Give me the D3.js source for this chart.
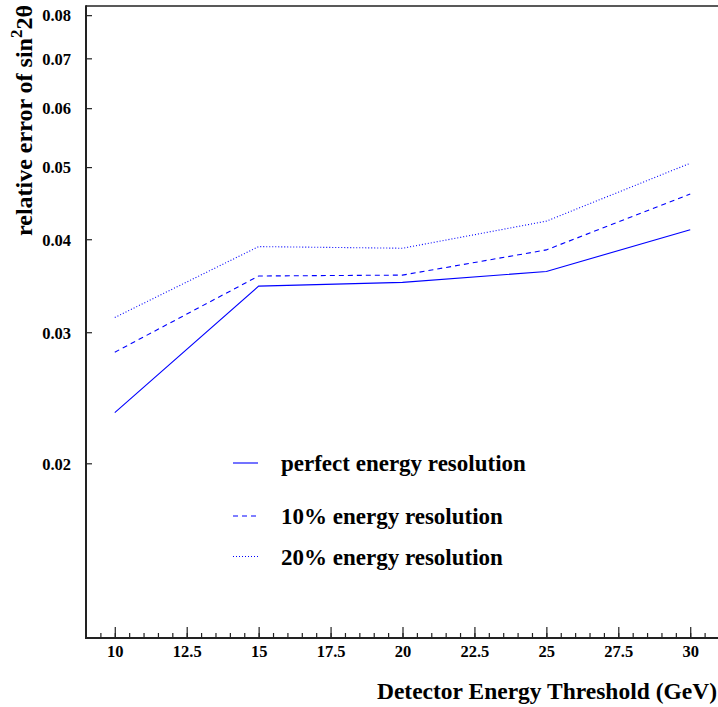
<!DOCTYPE html>
<html>
<head>
<meta charset="utf-8">
<script src="https://cdn.jsdelivr.net/npm/d3@7"></script>
<style>
  body { margin: 0; background: #fff; }
  svg text { font-family: "Liberation Serif", "Times New Roman", serif; font-weight: bold; fill: #000; }
</style>
</head>
<body>
<script>
const thresholds = [10, 15, 20, 25, 30];
const perfectRes = [0.0234, 0.0346, 0.0350, 0.0362, 0.0412];
const res10 = [0.0282, 0.0357, 0.0358, 0.0387, 0.0460];
const res20 = [0.0314, 0.0391, 0.0389, 0.0423, 0.0506];
const seriesNames = ['perfect energy resolution', '10% energy resolution', '20% energy resolution'];
const yTicks = [0.02, 0.03, 0.04, 0.05, 0.06, 0.07, 0.08];
const xTicks = [10, 12.5, 15, 17.5, 20, 22.5, 25, 27.5, 30];

const width = 718, height = 707;
const plotLeft = 86, plotRight = 719, plotTop = 6, plotBottom = 638;

const svg = d3.select('body')
  .append('svg')
  .attr('width', width)
  .attr('height', height);

const x = d3.scaleLinear()
  .domain([9, 31])
  .range([plotLeft, plotRight]);

const y = d3.scaleLog()
  .domain([0.01165, 0.0823])
  .range([plotBottom, plotTop]);

const series = [
  { name: seriesNames[0], values: perfectRes, dash: null },
  { name: seriesNames[1], values: res10, dash: '5,4' },
  { name: seriesNames[2], values: res20, dash: '1,2' }
];

// frame line on top
svg.append('line')
  .attr('x1', plotLeft).attr('x2', plotRight)
  .attr('y1', plotTop).attr('y2', plotTop)
  .attr('stroke', '#222').attr('stroke-width', 1.5);

// x axis: minor ticks then labelled ticks
svg.append('g')
  .attr('transform', `translate(0,${plotBottom})`)
  .call(d3.axisBottom(x).tickValues(d3.range(9.5, 31, 0.5)).tickSize(-5).tickFormat(''))
  .call(g => g.select('.domain').remove());

svg.append('g')
  .attr('transform', `translate(0,${plotBottom})`)
  .call(d3.axisBottom(x).tickValues(xTicks).tickSize(-11).tickPadding(0).tickFormat(d => d))
  .call(g => g.select('.domain').remove())
  .call(g => g.selectAll('text').attr('font-size', 16.5).attr('dy', null).attr('y', 19));

svg.selectAll('.tick line').attr('stroke', '#222').attr('stroke-width', 1.2);

svg.append('line')
  .attr('x1', plotLeft).attr('x2', plotRight)
  .attr('y1', plotBottom).attr('y2', plotBottom)
  .attr('stroke', '#222').attr('stroke-width', 2);

// y axis
svg.append('g')
  .attr('transform', `translate(${plotLeft},0)`)
  .call(d3.axisLeft(y).tickValues(yTicks).tickSize(-6).tickPadding(15).tickFormat(d3.format('.2f')))
  .call(g => g.select('.domain').remove())
  .call(g => g.selectAll('line').attr('stroke', '#222').attr('stroke-width', 1.2))
  .call(g => g.selectAll('text').attr('font-size', 16.5).attr('dy', '0.35em'));

svg.append('line')
  .attr('x1', plotLeft).attr('x2', plotLeft)
  .attr('y1', plotTop - 0.75).attr('y2', plotBottom + 1)
  .attr('stroke', '#222').attr('stroke-width', 2);

// lines
const line = d3.line()
  .x((d, i) => x(thresholds[i]))
  .y(d => y(d));

svg.selectAll('.series')
  .data(series)
  .join('path')
  .attr('class', 'series')
  .attr('d', d => line(d.values))
  .attr('fill', 'none')
  .attr('stroke', '#0000ff')
  .attr('stroke-width', 1.1)
  .attr('stroke-dasharray', d => d.dash);

// legend
const legendY = [463, 516, 556.5];
const legend = svg.selectAll('.legend')
  .data(series)
  .join('g')
  .attr('class', 'legend')
  .attr('transform', (d, i) => `translate(0,${legendY[i]})`);

legend.append('line')
  .attr('x1', 233).attr('x2', 258)
  .attr('stroke', '#0000ff')
  .attr('stroke-width', 1.1)
  .attr('stroke-dasharray', d => d.dash);

legend.append('text')
  .attr('x', 281)
  .attr('y', 8)
  .attr('font-size', 23)
  .text(d => d.name);

// axis titles
svg.append('text')
  .attr('x', 717)
  .attr('y', 699)
  .attr('text-anchor', 'end')
  .attr('font-size', 23.5)
  .text('Detector Energy Threshold (GeV)');

const yTitle = svg.append('text')
  .attr('transform', 'translate(32,5) rotate(-90)')
  .attr('text-anchor', 'end')
  .attr('font-size', 24);
yTitle.append('tspan').text('relative error of sin');
yTitle.append('tspan').attr('dy', -10).attr('font-size', 17).text('2');
yTitle.append('tspan').attr('dy', 10).text('2θ');
</script>
</body>
</html>
